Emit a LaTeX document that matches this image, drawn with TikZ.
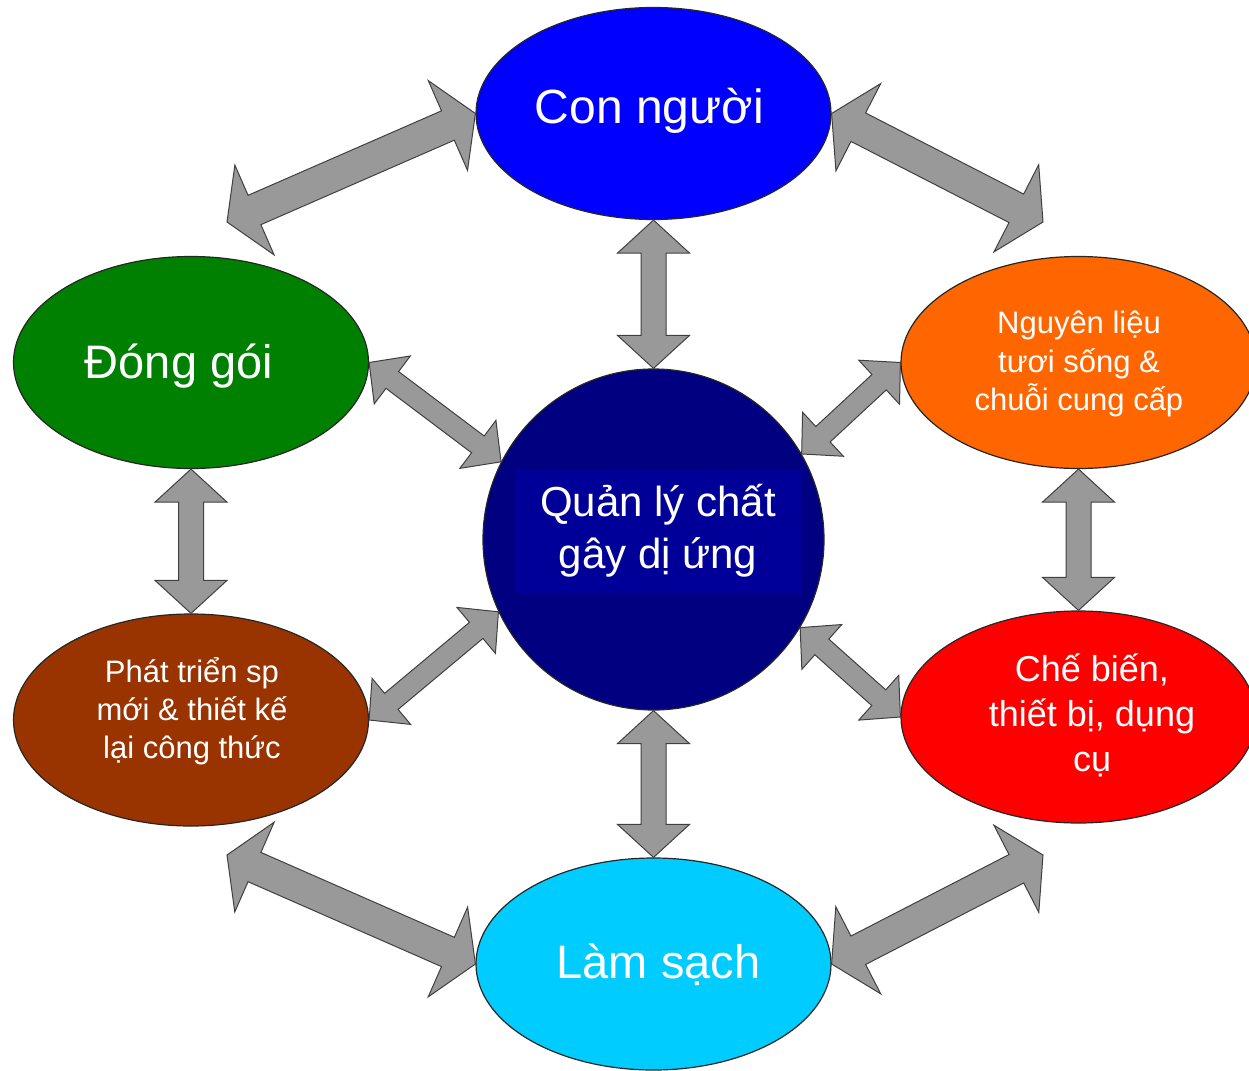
\documentclass[tikz,border=0pt]{standalone}
\usepackage{fontspec}
\setmainfont{Liberation Sans}
\usetikzlibrary{shapes.geometric,calc}
\definecolor{cBlue}{HTML}{0000FF}
\definecolor{cGreen}{HTML}{008000}
\definecolor{cOrange}{HTML}{FF6600}
\definecolor{cRed}{HTML}{FF0000}
\definecolor{cBrown}{HTML}{993300}
\definecolor{cCyan}{HTML}{00CCFF}
\definecolor{cNavy}{HTML}{000080}
\definecolor{cNavyBox}{HTML}{000099}
\definecolor{arrowgray}{HTML}{999999}
\tikzset{
  bubble/.style={ellipse, draw=black!85, line width=1.2pt, minimum width=355pt, minimum height=212pt, inner sep=0pt},
  txt/.style={text=white, inner sep=0pt},
  arrowbody/.style={fill=arrowgray, draw=black!75, line width=1pt, line join=miter},
}
% #1 start, #2 end, #3 shaft half width, #4 head length, #5 head half width
\newcommand\dblarrow[5]{%
  \draw[arrowbody] (#1)
    -- ($(#1)!#4!(#2)!#5!90:(#2)$) -- ($(#1)!#4!(#2)!#3!90:(#2)$)
    -- ($(#2)!#4!(#1)!#3!-90:(#1)$) -- ($(#2)!#4!(#1)!#5!-90:(#1)$)
    -- (#2)
    -- ($(#2)!#4!(#1)!#5!90:(#1)$) -- ($(#2)!#4!(#1)!#3!90:(#1)$)
    -- ($(#1)!#4!(#2)!#3!-90:(#2)$) -- ($(#1)!#4!(#2)!#5!-90:(#2)$)
    -- cycle;}
\begin{document}
\begin{tikzpicture}[x=1pt,y=-1pt]
\fill[white] (0,0) rectangle (1249,1070);
\useasboundingbox (0,0) rectangle (1249,1070);

% bubbles
\node[bubble, fill=cBlue]   (nguoi)      at (653.5,113.5) {};
\node[bubble, fill=cGreen]  (donggoi)    at (191,362.5) {};
\node[bubble, fill=cOrange] (nguyenlieu) at (1078.5,362.5) {};
\node[bubble, fill=cBrown]  (phattrien)  at (191,720) {};
\node[bubble, fill=cRed]    (chebien)    at (1078.5,717) {};
\node[bubble, fill=cCyan]   (lamsach)    at (653.5,964) {};
\node[circle, draw=black!85, line width=1.2pt, fill=cNavy, minimum size=341pt, inner sep=0pt] (qly) at (653.5,539.5) {};

% centre box with text
\node[rectangle, fill=cNavyBox, minimum width=286pt, minimum height=124pt, inner sep=0pt,
      text=white, align=center, font=\fontsize{42}{52}\selectfont] (qlybox) at (658,531)
      {Quản lý chất\\gây dị ứng};

% texts
\node[txt, anchor=base, font=\fontsize{48}{58}\selectfont] (nguoiT) at (649.5,124) {Con người};
\node[txt, anchor=base, font=\fontsize{47}{56}\selectfont] (donggoiT) at (179,378) {Đóng gói};
\node[txt, anchor=base, font=\fontsize{47}{56}\selectfont] (lamsachT) at (658.5,978) {Làm sạch};
\node[txt, align=center, font=\fontsize{31}{38.5}\selectfont] (nguyenlieuT) at (1079,364)
      {Nguyên liệu\\tươi sống \&\\chuỗi cung cấp};
\node[txt, align=center, font=\fontsize{36}{45}\selectfont] (chebienT) at (1092,715)
      {Chế biến,\\thiết bị, dụng\\cụ};
\node[txt, align=center, font=\fontsize{31}{38}\selectfont] (phattrienT) at (192,711)
      {Phát triển sp\\mới \& thiết kế\\lại công thức};

% free ends of the long arrows
\coordinate (tlEnd) at (227,222);
\coordinate (trEnd) at (1043,222);
\coordinate (blEnd) at (227,855);
\coordinate (brEnd) at (1043,855);

% long diagonal arrows
\dblarrow{tlEnd}{nguoi.west}{16pt}{30pt}{49pt}
\dblarrow{nguoi.east}{trEnd}{16pt}{30pt}{49pt}
\dblarrow{blEnd}{lamsach.west}{16pt}{30pt}{49pt}
\dblarrow{lamsach.east}{brEnd}{16pt}{30pt}{49pt}

% vertical arrows
\dblarrow{nguoi.south}{qly.north}{12.5pt}{33pt}{36pt}
\dblarrow{qly.south}{lamsach.north}{12.5pt}{33pt}{36pt}
\dblarrow{donggoi.south}{phattrien.north}{12.5pt}{33pt}{36pt}
\dblarrow{nguyenlieu.south}{chebien.north}{12.5pt}{33pt}{36pt}

% short diagonal arrows
\dblarrow{donggoi.east}{qly.153}{10.5pt}{29pt}{30pt}
\dblarrow{phattrien.east}{qly.205}{10.5pt}{29pt}{30pt}
\dblarrow{qly.30}{nguyenlieu.west}{10.5pt}{29pt}{30pt}
\dblarrow{qly.-31}{chebien.west}{10.5pt}{29pt}{30pt}
\end{tikzpicture}
\end{document}
